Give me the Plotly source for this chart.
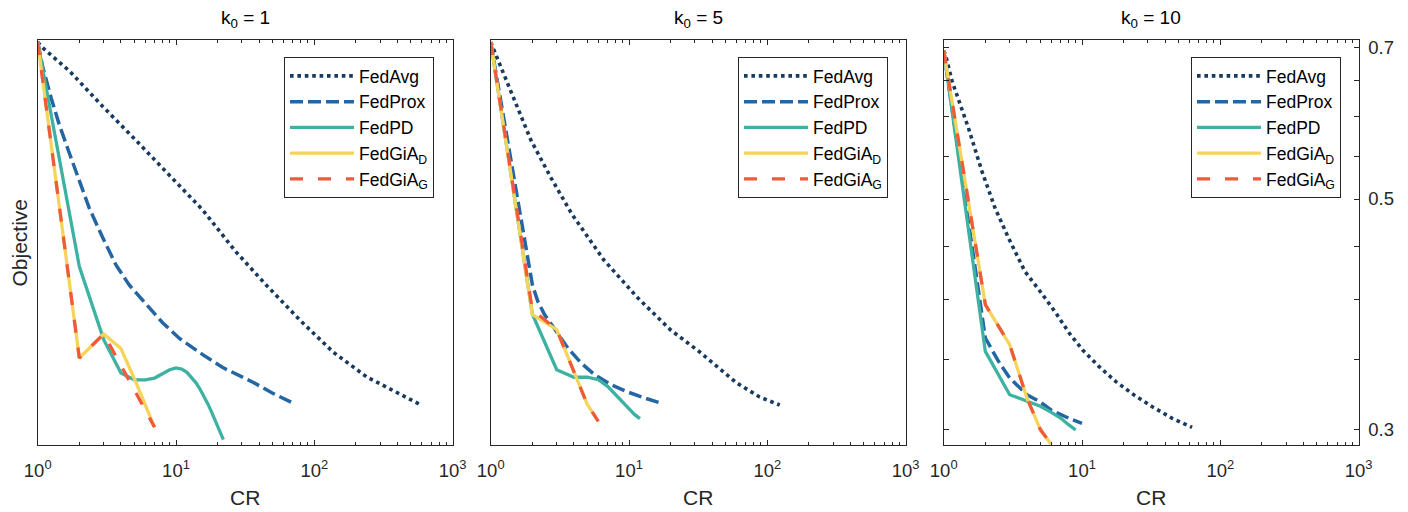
import plotly.graph_objects as go

# ---------------- data ----------------
panel_titles = ["k<sub>0</sub> = 1", "k<sub>0</sub> = 5", "k<sub>0</sub> = 10"]
series_names = ["FedAvg", "FedProx", "FedPD", "FedGiA<sub>D</sub>", "FedGiA<sub>G</sub>"]

x_tick_vals = [1, 10, 100, 1000]
x_tick_text = ["10<sup>0</sup>", "10<sup>1</sup>", "10<sup>2</sup>", "10<sup>3</sup>"]
x_minor_vals = [2, 3, 4, 5, 6, 7, 8, 9, 20, 30, 40, 50, 60, 70, 80, 90,
                200, 300, 400, 500, 600, 700, 800, 900]
y_tick_vals = [0.3, 0.5, 0.7]
y_tick_text = ["0.3", "0.5", "0.7"]
y_minor_vals = [0.35, 0.4, 0.45, 0.55, 0.6, 0.65]

# k0 = 1
p1_fedavg_x = [1, 1.09, 1.7, 2.95, 5.1, 8.9, 15.6, 27, 45, 79, 137, 239, 581]
p1_fedavg_y = [0.708, 0.699, 0.664, 0.614, 0.570, 0.528, 0.488, 0.445, 0.413, 0.382, 0.356, 0.337, 0.317]
p1_fedprox_x = [1, 1.09, 1.25, 1.43, 1.69, 2.0, 2.36, 2.95, 3.68, 4.6, 6.07, 8.0, 10.6, 15.6, 21.8, 36, 50, 70]
p1_fedprox_y = [0.708, 0.669, 0.626, 0.590, 0.554, 0.520, 0.490, 0.459, 0.432, 0.413, 0.396, 0.380, 0.367, 0.354, 0.344, 0.333, 0.325, 0.318]
p1_fedpd_x = list(range(1, 23))
p1_fedpd_y = [0.708, 0.4305, 0.366, 0.3398, 0.3348, 0.3348, 0.3361, 0.3398, 0.3424, 0.3437, 0.3429,
              0.3404, 0.3366, 0.3324, 0.3275, 0.3227, 0.3174, 0.3122, 0.3069, 0.3020, 0.2976, 0.2932]
p1_giad_x = [1, 2, 3, 4, 5, 6, 7]
p1_giad_y = [0.708, 0.3514, 0.3706, 0.3588, 0.3356, 0.3164, 0.3013]
p1_giag_x = [1, 2, 3, 4, 5, 6, 7]
p1_giag_y = [0.708, 0.3514, 0.3706, 0.3462, 0.3273, 0.3130, 0.3013]

# k0 = 5
p2_fedavg_x = [1, 1.04, 1.4, 1.95, 2.73, 3.86, 6.58, 11.6, 20, 32.5, 60, 88, 123]
p2_fedavg_y = [0.708, 0.699, 0.634, 0.570, 0.524, 0.4836, 0.4367, 0.4014, 0.3739, 0.3561, 0.3325, 0.3223, 0.3166]
p2_fedprox_x = [1, 2, 2.19, 2.45, 2.98, 3.61, 4.51, 5.62, 7.42, 9.78, 12.9, 17]
p2_fedprox_y = [0.708, 0.4135, 0.3985, 0.3869, 0.3728, 0.3593, 0.3475, 0.3387, 0.3312, 0.3259, 0.3216, 0.318]
p2_fedpd_x = list(range(1, 13))
p2_fedpd_y = [0.708, 0.3874, 0.3424, 0.3367, 0.3367, 0.3349, 0.3300, 0.3239, 0.318, 0.3134, 0.3099, 0.3072]
p2_giad_x = [1, 2, 3, 4, 5, 6]
p2_giad_y = [0.708, 0.3869, 0.3742, 0.3399, 0.3169, 0.3053]
p2_giag_x = [1, 2, 3, 4, 5, 6]
p2_giag_y = [0.708, 0.3911, 0.3742, 0.3399, 0.3169, 0.3053]

# k0 = 10
p3_fedavg_x = [1, 1.03, 1.15, 1.51, 1.89, 2.35, 2.94, 3.86, 5.21, 6.5, 8.1, 10.1, 13.3, 17.6, 23.8, 32.2, 44.9, 62.5]
p3_fedavg_y = [0.695, 0.6887, 0.6492, 0.5853, 0.5317, 0.4901, 0.4586, 0.4259, 0.4041, 0.3880, 0.3712,
               0.3577, 0.3447, 0.3334, 0.3237, 0.3154, 0.3074, 0.3013]
p3_fedprox_x = [1, 2, 2.49, 3, 4, 5, 6, 8, 10]
p3_fedprox_y = [0.695, 0.3673, 0.3488, 0.3362, 0.3239, 0.3187, 0.3130, 0.3075, 0.304]
p3_fedpd_x = list(range(1, 10))
p3_fedpd_y = [0.695, 0.3566, 0.3239, 0.3192, 0.3157, 0.3115, 0.3076, 0.3031, 0.2995]
p3_giad_x = [1, 2, 3, 4, 5, 6]
p3_giad_y = [0.695, 0.3956, 0.3620, 0.3216, 0.2998, 0.2900]
p3_giag_x = [1, 2, 3, 4, 5, 6]
p3_giag_y = [0.695, 0.3956, 0.3620, 0.3216, 0.2998, 0.2900]

panels = [
    [(p1_fedavg_x, p1_fedavg_y), (p1_fedprox_x, p1_fedprox_y), (p1_fedpd_x, p1_fedpd_y),
     (p1_giad_x, p1_giad_y), (p1_giag_x, p1_giag_y)],
    [(p2_fedavg_x, p2_fedavg_y), (p2_fedprox_x, p2_fedprox_y), (p2_fedpd_x, p2_fedpd_y),
     (p2_giad_x, p2_giad_y), (p2_giag_x, p2_giag_y)],
    [(p3_fedavg_x, p3_fedavg_y), (p3_fedprox_x, p3_fedprox_y), (p3_fedpd_x, p3_fedpd_y),
     (p3_giad_x, p3_giad_y), (p3_giag_x, p3_giag_y)],
]

# ---------------- styles ----------------
W, H = 1408, 512
FONT = "Liberation Sans, Arial, Helvetica, sans-serif"
AXC = "#262626"
line_styles = [
    dict(color="#173a5e", width=3.6, dash="3.6px,3.8px"),
    dict(color="#2465a4", width=3.5, dash="13px,5px"),
    dict(color="#3db2a2", width=3.3, dash="solid"),
    dict(color="#f6d35a", width=3.3, dash="solid"),
    dict(color="#ee5a3a", width=3.3, dash="13px,15px"),
]

x_px = [(37.7, 452.6), (490.7, 905.6), (943.7, 1358.6)]
y_top_px, y_bot_px = 40, 445
y_range = [-0.53802, -0.14785]
legend_left_px = [284, 738, 1191]
legend_top_px = 57

fig = go.Figure()
for p, series in enumerate(panels):
    sfx = "" if p == 0 else str(p + 1)
    for s, (xs, ys) in enumerate(series):
        fig.add_trace(go.Scatter(
            x=xs, y=ys, mode="lines", name=series_names[s],
            line=line_styles[s], xaxis="x" + sfx, yaxis="y" + sfx,
            legend="legend" + sfx, showlegend=True, hoverinfo="skip"))

layout = dict(
    width=W, height=H, margin=dict(l=0, r=0, t=0, b=0, autoexpand=False),
    paper_bgcolor="white", plot_bgcolor="white",
    font=dict(family=FONT, color=AXC, size=18),
    annotations=[],
)
for p in range(3):
    sfx = "" if p == 0 else str(p + 1)
    x0, x1 = x_px[p]
    layout["xaxis" + sfx] = dict(
        type="log", range=[0, 3], domain=[x0 / W, x1 / W], anchor="y" + sfx,
        showline=True, linecolor=AXC, linewidth=1, mirror="allticks",
        ticks="inside", ticklen=5, tickcolor=AXC, tickwidth=1,
        tickmode="array", tickvals=x_tick_vals, ticktext=x_tick_text,
        tickfont=dict(size=18.5, color=AXC), ticklabelstandoff=9,
        minor=dict(ticks="inside", ticklen=3, tickcolor=AXC, tickwidth=1,
                   tickmode="array", tickvals=x_minor_vals, showgrid=False),
        showgrid=False, zeroline=False, automargin=False,
    )
    ydict = dict(
        type="log", range=y_range,
        domain=[(H - y_bot_px) / H, (H - y_top_px) / H], anchor="x" + sfx,
        showline=True, linecolor=AXC, linewidth=1, mirror=True,
        showgrid=False, zeroline=False, automargin=False,
    )
    if p == 2:
        ydict.update(
            side="right", mirror="allticks", ticks="inside", ticklen=5,
            tickcolor=AXC, tickwidth=1, tickmode="array",
            tickvals=y_tick_vals, ticktext=y_tick_text,
            tickfont=dict(size=18.5, color=AXC), ticklabelstandoff=5,
            minor=dict(ticks="inside", ticklen=5, tickcolor=AXC, tickwidth=1,
                       tickmode="array", tickvals=y_minor_vals, showgrid=False),
        )
    else:
        ydict.update(ticks="", showticklabels=False)
    layout["yaxis" + sfx] = ydict
    layout["legend" + sfx] = dict(
        x=legend_left_px[p] / W, y=1 - legend_top_px / H, xanchor="left", yanchor="top",
        xref="paper", yref="paper",
        bgcolor="white", bordercolor=AXC, borderwidth=1,
        font=dict(family=FONT, size=17.5, color="#000000"),
        itemwidth=64, tracegroupgap=0, traceorder="normal",
    )
    cx = (x0 + x1) / 2 / W
    layout["annotations"].append(dict(
        text=panel_titles[p], x=cx, y=1 - 19 / H, xref="paper", yref="paper",
        showarrow=False, xanchor="center", yanchor="middle",
        font=dict(family=FONT, size=19, color="#000000")))
    layout["annotations"].append(dict(
        text="CR", x=cx, y=1 - 497 / H, xref="paper", yref="paper",
        showarrow=False, xanchor="center", yanchor="middle",
        font=dict(family=FONT, size=21, color=AXC)))

layout["annotations"].append(dict(
    text="Objective", x=18.5 / W, y=1 - 243 / H, xref="paper", yref="paper",
    showarrow=False, xanchor="center", yanchor="middle", textangle=-90,
    font=dict(family=FONT, size=21, color=AXC)))

fig.update_layout(**layout)
fig.write_html(
    "out.html",
    config={"displayModeBar": False},
    post_script="document.body.style.margin='0px';document.body.style.overflow='hidden';",
)
